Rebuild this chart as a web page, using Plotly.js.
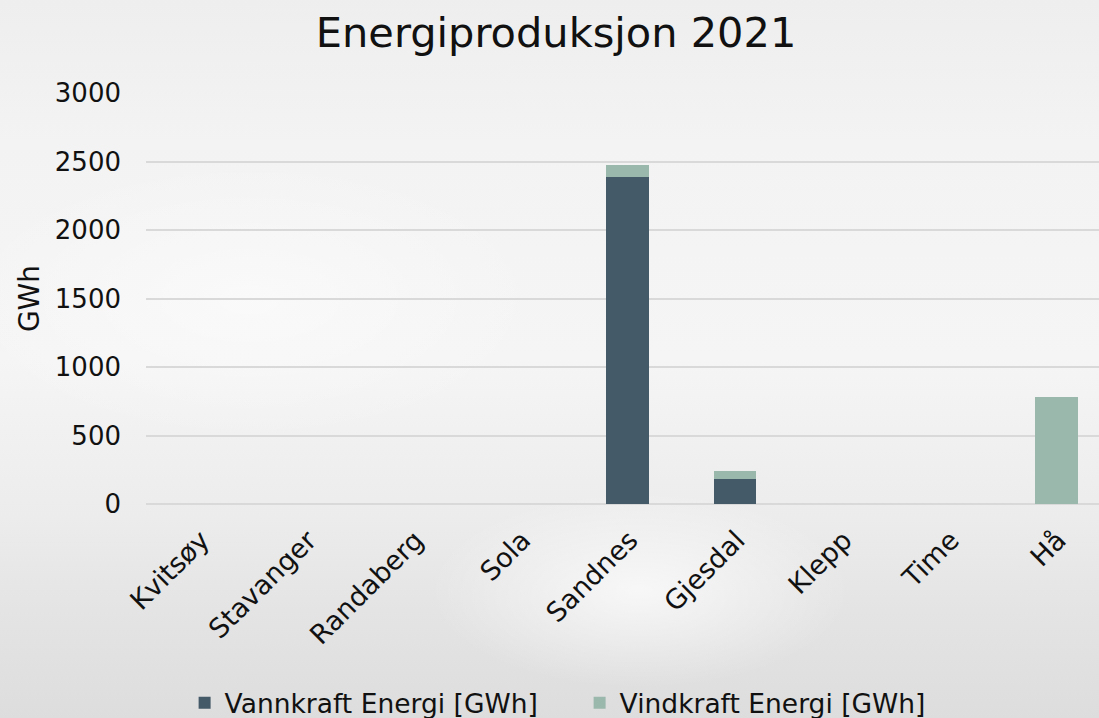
<!DOCTYPE html>
<html>
<head>
<meta charset="utf-8">
<script src="https://cdn.plot.ly/plotly-3.0.1.min.js"></script>
<style>
html,body{margin:0;padding:0;overflow:hidden;}
body{width:1099px;height:718px;
background:
 radial-gradient(ellipse 300px 140px at 640px 590px, rgba(255,255,255,0.7), rgba(255,255,255,0) 70%),
 radial-gradient(ellipse 420px 200px at 250px 300px, rgba(255,255,255,0.5), rgba(255,255,255,0) 70%),
 linear-gradient(to bottom, #eeeeee 0%, #f3f3f3 20%, #f5f5f5 50%, #ececec 72%, #e4e4e4 85%, #dddddd 100%);}
#chart{width:1099px;height:718px;}
</style>
</head>
<body>
<div id="chart"></div>
<script>
const categories = ["Kvitsøy","Stavanger","Randaberg","Sola","Sandnes","Gjesdal","Klepp","Time","Hå"];
const vannkraft = [0, 0, 0, 0, 2390, 182, 0, 0, 0];
const vindkraft = [0, 0, 0, 0, 86, 61, 0, 0, 784];
const yTicks = [0, 500, 1000, 1500, 2000, 2500, 3000];

const font = "DejaVu Sans, Verdana, sans-serif";

const traces = [
  {type:"bar", name:"Vannkraft Energi [GWh]", x:categories, y:vannkraft,
   marker:{color:"#455a68"}, hoverinfo:"y"},
  {type:"bar", name:"Vindkraft Energi [GWh]", x:categories, y:vindkraft,
   marker:{color:"#9bb8ad"}, hoverinfo:"y"}
];

const layout = {
  width:1099, height:718,
  paper_bgcolor:"rgba(0,0,0,0)", plot_bgcolor:"rgba(0,0,0,0)",
  barmode:"stack", bargap:0.6,
  margin:{l:146, r:0, t:93, b:214, autoexpand:false},
  font:{family:font, color:"#111", size:25},
  title:{text:"Energiproduksjon 2021", font:{family:font, size:41.5, color:"#111"},
         x:0.506, xanchor:"center", y:0.955, yanchor:"middle", yref:"container"},
  xaxis:{type:"category", range:[-0.5, 8.4], tickangle:-45, showgrid:false,
         zeroline:false, showline:false, ticks:"", ticklabelstandoff:14, ticklabelshift:2,
         tickfont:{size:27, family:font, color:"#111"}, automargin:false,
         fixedrange:true},
  yaxis:{range:[0,3000], tickvals:yTicks, ticktext:yTicks.map(String),
         showgrid:true, gridcolor:"#d9d9d9", gridwidth:2, zeroline:true, zerolinecolor:"#d9d9d9",
         zerolinewidth:2, showline:false, ticks:"", ticklabelstandoff:24,
         tickfont:{size:26, family:font, color:"#111"}, automargin:false,
         title:{text:"GWh", font:{size:28, family:font, color:"#111"}, standoff:7},
         fixedrange:true},
  legend:{orientation:"h", x:0.455, xanchor:"center", yref:"container", y:0.021, yanchor:"middle",
          entrywidth:350, entrywidthmode:"pixels",
          font:{size:26.5, family:font, color:"#111"}, traceorder:"normal",
          bgcolor:"rgba(0,0,0,0)"},
  showlegend:true
};

Plotly.newPlot("chart", traces, layout, {displayModeBar:false, staticPlot:true});
</script>
</body>
</html>
